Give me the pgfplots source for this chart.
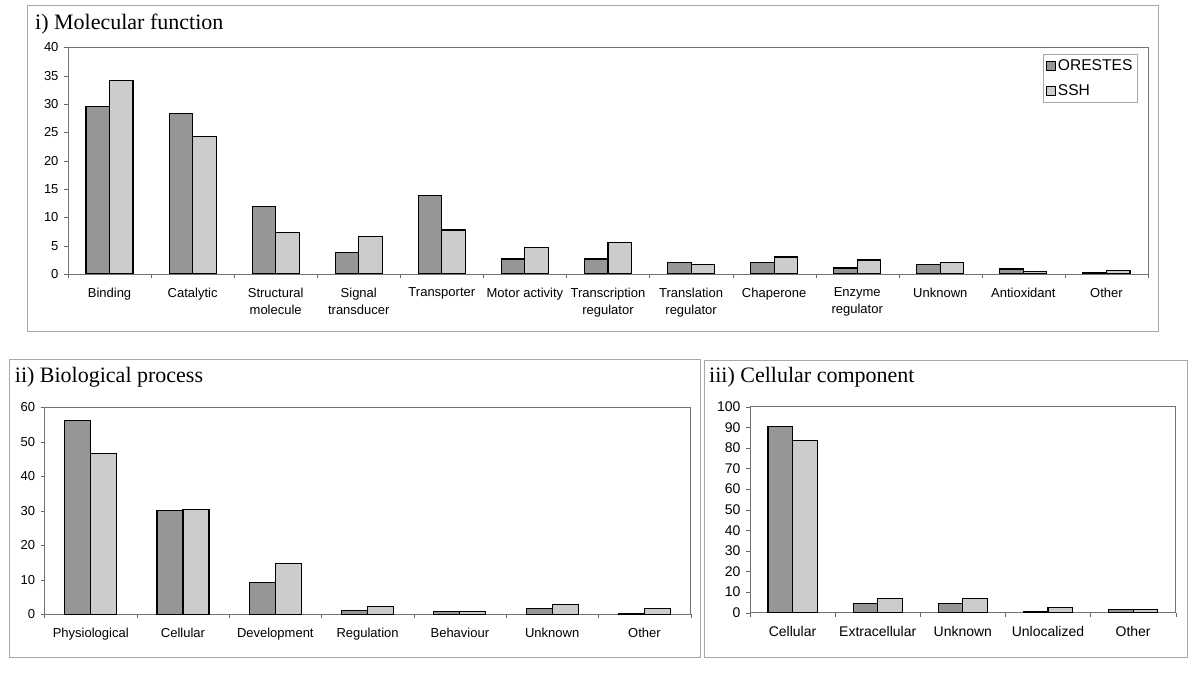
\documentclass[border=0pt]{standalone}
\usepackage{pgfplots}
\pgfplotsset{compat=1.18}
\usepackage{fontspec}
\setmainfont{Liberation Serif}
\setsansfont{Liberation Sans}
\definecolor{dk}{HTML}{969696}
\definecolor{lt}{HTML}{CCCCCC}
\definecolor{frm}{HTML}{A8A8A8}
\pgfplotsset{
  go/.style={
    scale only axis, ybar=0pt, ymin=0,
    anchor=south west,
    enlarge x limits=false,
    tick pos=left, tick align=outside,
    major tick length=4pt, minor tick length=4pt,
    major x tick style={draw=none},
    minor x tick style={draw=black!60},
    ytick style={draw=black!60},
    axis line style={draw=black!55, line width=0.8pt},
    /pgf/number format/assume math mode=true,
    xticklabel style={align=center, yshift=-6.5pt},
    yticklabel style={xshift=-2pt},
  },
  sb/.style={draw=black, line width=1.1pt, fill=#1},
}
\begin{document}
\begin{tikzpicture}[x=1pt,y=1pt]
\path[use as bounding box] (0,0) rectangle (1200,674);
\draw[frm, line width=1pt] (27.6,342.3) rectangle (1158.7,668);
\draw[frm, line width=1pt] (9,16) rectangle (700,314.7);
\draw[frm, line width=1pt] (704,16) rectangle (1187,313.3);
\node[anchor=base west, inner sep=0pt, font=\fontsize{22}{24}\selectfont] at (35,644.7) {i) Molecular function};
\node[anchor=base west, inner sep=0pt, font=\fontsize{22}{24}\selectfont] at (14.7,291.7) {ii) Biological process};
\node[anchor=base west, inner sep=0pt, font=\fontsize{22}{24}\selectfont] at (709,291.3) {iii) Cellular component};

\begin{axis}[go, at={(68pt,400pt)}, width=1080pt, height=226.7pt,
  bar width=23.5pt, xmin=-0.5, xmax=12.5, ymax=40, ytick={0,5,...,40},
  xtick={0,...,12}, minor xtick={-0.5,0.5,...,12.5},
  xticklabels={Binding,Catalytic,{Structural\\molecule},{Signal\\transducer},Transporter,{Motor activity},{Transcription\\regulator},{Translation\\regulator},Chaperone,{Enzyme\\regulator},Unknown,Antioxidant,Other},
  ticklabel style={font=\sffamily\fontsize{13}{17}\selectfont},
  legend style={at={(0.9907,0.970)}, anchor=north east, draw=frm, line width=1pt,
    font=\sffamily\fontsize{15.6}{18}\selectfont, row sep=9pt, inner sep=3pt,
    cells={anchor=west}},
  ]
\addplot[sb=dk, legend image code/.code={\draw[fill=dk,draw=black,line width=1pt] (0pt,-4.5pt) rectangle (8.5pt,4.5pt);}] coordinates {(0,29.5) (1,28.3) (2,11.9) (3,3.8) (4,13.8) (5,2.65) (6,2.65) (7,2.0) (8,2.0) (9,1.06) (10,1.64) (11,0.88) (12,0.2)};
\addplot[sb=lt, legend image code/.code={\draw[fill=lt,draw=black,line width=1pt] (0pt,-4.5pt) rectangle (8.5pt,4.5pt);}] coordinates {(0,34.2) (1,24.2) (2,7.35) (3,6.6) (4,7.76) (5,4.6) (6,5.6) (7,1.64) (8,3.0) (9,2.47) (10,2.0) (11,0.4) (12,0.65)};
\legend{ORESTES,SSH}
\end{axis}

\begin{axis}[go, at={(44.6pt,59.7pt)}, width=646pt, height=207pt,
  bar width=26pt, xmin=-0.5, xmax=6.5, ymax=60, ytick={0,10,...,60},
  xtick={0,...,6}, minor xtick={-0.5,0.5,...,6.5},
  xticklabels={Physiological,Cellular,Development,Regulation,Behaviour,Unknown,Other},
  ticklabel style={font=\sffamily\fontsize{13}{17}\selectfont},
  ]
\addplot[sb=dk] coordinates {(0,56.3) (1,30.0) (2,9.3) (3,1.2) (4,0.8) (5,1.6) (6,0.3)};
\addplot[sb=lt] coordinates {(0,46.5) (1,30.3) (2,14.8) (3,2.3) (4,0.8) (5,2.9) (6,1.6)};
\end{axis}

\begin{axis}[go, at={(750pt,61.3pt)}, width=425.7pt, height=206pt,
  bar width=24.6pt, xmin=-0.5, xmax=4.5, ymax=100, ytick={0,10,...,100},
  xtick={0,...,4}, minor xtick={-0.5,0.5,...,4.5},
  xticklabels={Cellular,Extracellular,Unknown,Unlocalized,Other},
  ticklabel style={font=\sffamily\fontsize{14}{17}\selectfont},
  ]
\addplot[sb=dk] coordinates {(0,90.3) (1,4.4) (2,4.4) (3,0.5) (4,1.5)};
\addplot[sb=lt] coordinates {(0,83.7) (1,6.8) (2,6.8) (3,2.6) (4,1.5)};
\end{axis}
\end{tikzpicture}
\end{document}
